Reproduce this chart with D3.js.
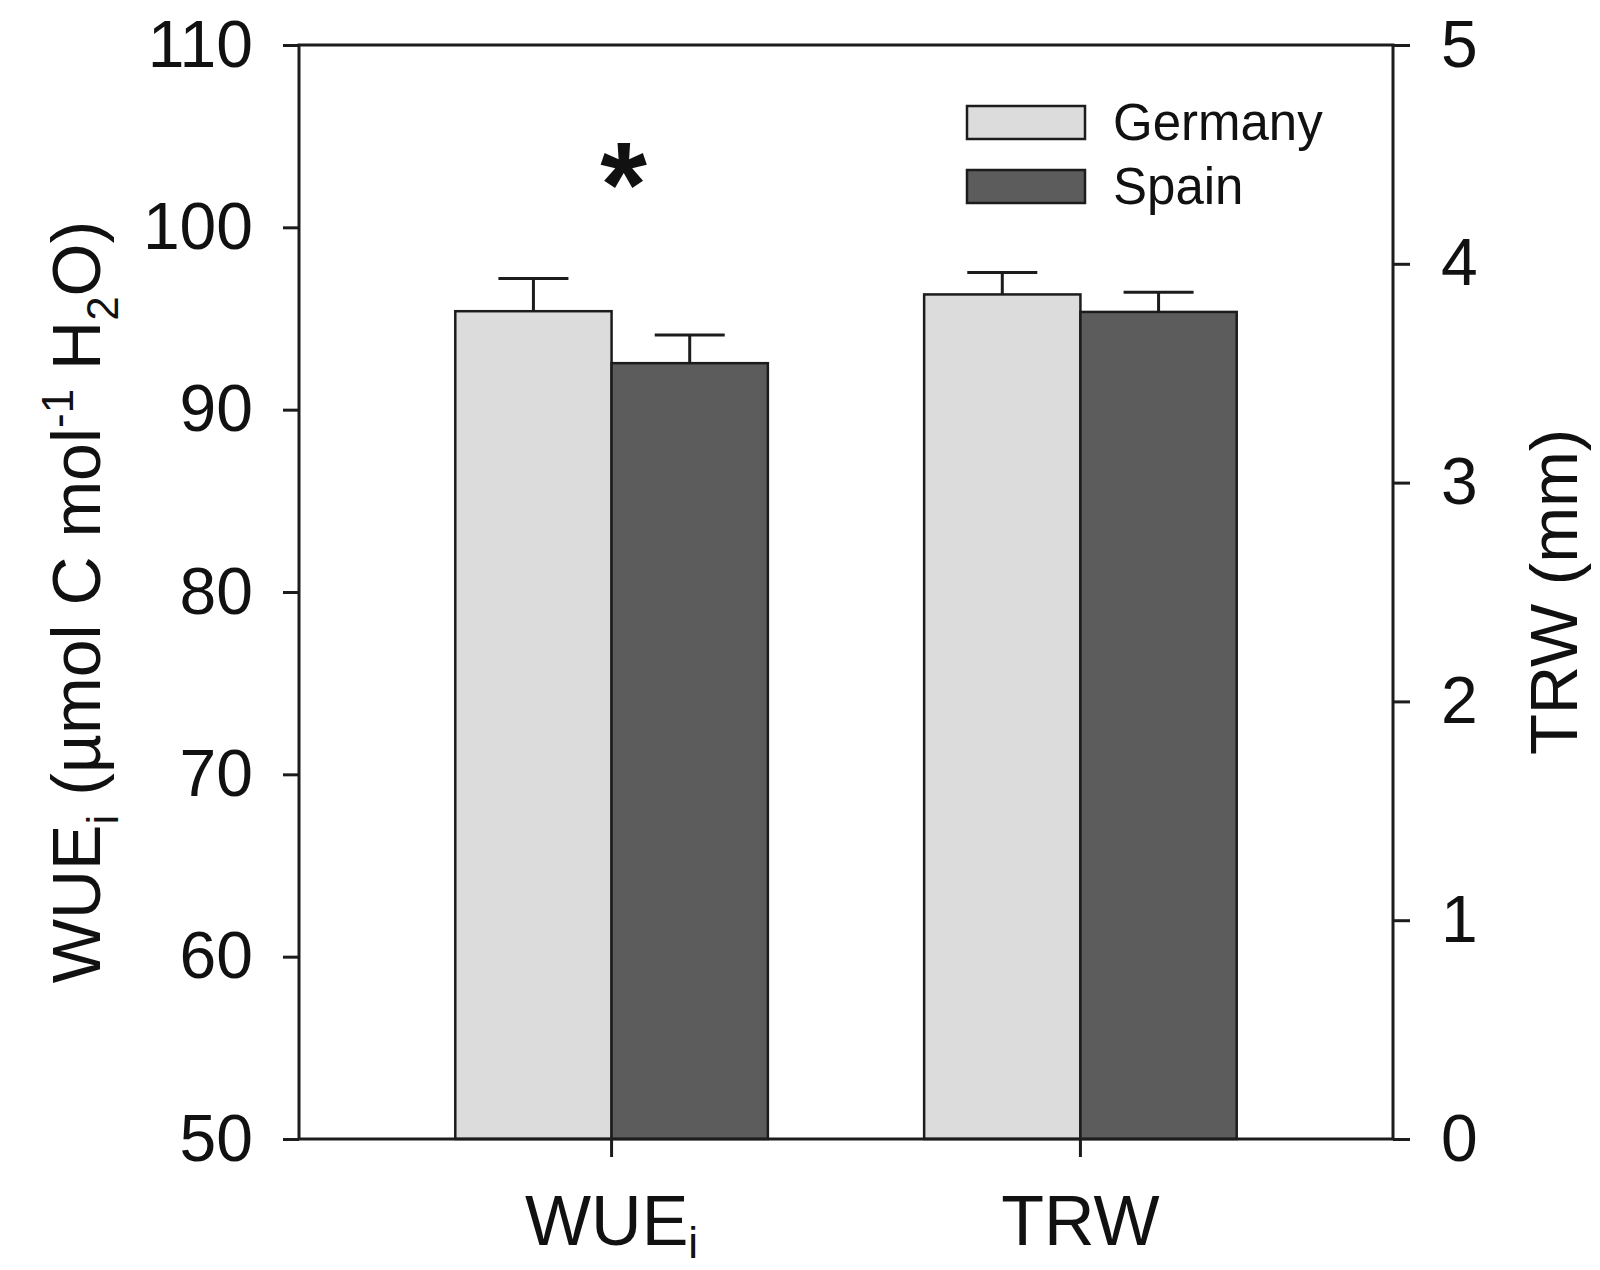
<!DOCTYPE html>
<html>
<head>
<meta charset="utf-8">
<script src="https://cdn.jsdelivr.net/npm/d3@7"></script>
<style>
  html, body { margin: 0; padding: 0; background: #fff; }
  svg { display: block; font-family: "Liberation Sans", Arial, sans-serif; }
</style>
</head>
<body>
<div id="chart"></div>
<script>
// categories on the x axis; WUEi is read on the left axis, TRW on the right one
const categories = ["WUEi", "TRW"];
const categoryAxis = ["left", "right"];
const series = ["Germany", "Spain"];

// means and standard errors, one entry per category
const germanyMeans = [95.4, 3.86];
const germanyErrors = [1.8, 0.10];
const spainMeans = [92.55, 3.78];
const spainErrors = [1.55, 0.09];

const leftTicks = [50, 60, 70, 80, 90, 100, 110];
const rightTicks = [0, 1, 2, 3, 4, 5];

// significance marker above a category (left axis units)
const significance = [{category: "WUEi", value: 103.5}];

const width = 1600;
const height = 1270;
const margin = {top: 45, right: 207, bottom: 131, left: 299};
const ink = "#1c1c1c";
const fills = {Germany: "#dcdcdc", Spain: "#5c5c5c"};

const svg = d3.select("#chart")
  .append("svg")
  .attr("width", width)
  .attr("height", height);

const x = d3.scaleBand()
  .domain(categories)
  .range([margin.left, width - margin.right])
  .paddingInner(1 / 3)
  .paddingOuter(1 / 3);

const xSeries = d3.scaleBand()
  .domain(series)
  .range([0, x.bandwidth()]);

const yLeft = d3.scaleLinear()
  .domain([50, 110])
  .range([height - margin.bottom, margin.top]);

const yRight = d3.scaleLinear()
  .domain([0, 5])
  .range([height - margin.bottom, margin.top]);

const scaleFor = (i) => categoryAxis[i] === "left" ? yLeft : yRight;

const rows = [];
categories.forEach((c, i) => {
  rows.push({category: c, series: "Germany", mean: germanyMeans[i], err: germanyErrors[i], y: scaleFor(i)});
  rows.push({category: c, series: "Spain", mean: spainMeans[i], err: spainErrors[i], y: scaleFor(i)});
});

/**
 * Bars with their upper error bars.
 */
const bars = svg.append("g");

bars.selectAll("rect")
  .data(rows)
  .enter()
  .append("rect")
  .attr("x", (d) => x(d.category) + xSeries(d.series))
  .attr("y", (d) => d.y(d.mean))
  .attr("width", xSeries.bandwidth())
  .attr("height", (d) => d.y.range()[0] - d.y(d.mean))
  .attr("fill", (d) => fills[d.series])
  .attr("stroke", ink)
  .attr("stroke-width", 2.5);

const capHalf = 35;
const centre = (d) => x(d.category) + xSeries(d.series) + xSeries.bandwidth() / 2;
const errors = bars.selectAll("g.err")
  .data(rows)
  .enter()
  .append("g")
  .attr("class", "err")
  .attr("stroke", ink)
  .attr("stroke-width", 3);

errors.append("line")
  .attr("x1", centre)
  .attr("x2", centre)
  .attr("y1", (d) => d.y(d.mean))
  .attr("y2", (d) => d.y(d.mean + d.err));

errors.append("line")
  .attr("x1", (d) => centre(d) - capHalf)
  .attr("x2", (d) => centre(d) + capHalf)
  .attr("y1", (d) => d.y(d.mean + d.err))
  .attr("y2", (d) => d.y(d.mean + d.err));

/**
 * Frame and axes.
 */
svg.append("rect")
  .attr("x", margin.left)
  .attr("y", margin.top)
  .attr("width", width - margin.left - margin.right)
  .attr("height", height - margin.top - margin.bottom)
  .attr("fill", "none")
  .attr("stroke", ink)
  .attr("stroke-width", 3);

function styleAxis(g, fontSize) {
  g.select(".domain").remove();
  g.selectAll(".tick line").attr("stroke", ink).attr("stroke-width", 3);
  g.selectAll(".tick text")
    .attr("fill", "#111")
    .attr("font-size", fontSize)
    .attr("font-family", "Liberation Sans, Arial, sans-serif");
}

svg.append("g")
  .attr("transform", `translate(${margin.left},0)`)
  .call(d3.axisLeft(yLeft).tickValues(leftTicks).tickSize(16).tickPadding(30))
  .call((g) => styleAxis(g, 66));

svg.append("g")
  .attr("transform", `translate(${width - margin.right},0)`)
  .call(d3.axisRight(yRight).tickValues(rightTicks).tickFormat(d3.format("d")).tickSize(17).tickPadding(31))
  .call((g) => styleAxis(g, 66));

svg.append("g")
  .attr("transform", `translate(0,${height - margin.bottom})`)
  .call(d3.axisBottom(x).tickSize(18).tickFormat(""))
  .call((g) => styleAxis(g, 66));

// category labels, with the subscript for WUEi
const catLabels = svg.append("g")
  .selectAll("text")
  .data(categories)
  .enter()
  .append("text")
  .attr("x", (d) => x(d) + x.bandwidth() / 2)
  .attr("y", 1245)
  .attr("text-anchor", "middle")
  .attr("font-size", 70)
  .attr("fill", "#111");

catLabels.each(function (d) {
  const t = d3.select(this);
  if (d === "WUEi") {
    t.append("tspan").text("WUE");
    t.append("tspan").attr("font-size", 44).attr("dy", 13).text("i");
  } else {
    t.text(d);
  }
});

// left axis title
const leftTitle = svg.append("text")
  .attr("transform", "translate(100,602) rotate(-90)")
  .attr("text-anchor", "middle")
  .attr("font-size", 68)
  .attr("fill", "#111");
leftTitle.append("tspan").text("WUE");
leftTitle.append("tspan").attr("font-size", 44).attr("dy", 18).text("i");
leftTitle.append("tspan").attr("dy", -18).text(" (\u00b5mol C mol");
leftTitle.append("tspan").attr("font-size", 44).attr("dy", -27).text("-1");
leftTitle.append("tspan").attr("dy", 27).text(" H");
leftTitle.append("tspan").attr("font-size", 44).attr("dy", 18).text("2");
leftTitle.append("tspan").attr("dy", -18).text("O)");

// right axis title
svg.append("text")
  .attr("transform", `translate(1577,${(margin.top + height - margin.bottom) / 2}) rotate(-90)`)
  .attr("text-anchor", "middle")
  .attr("font-size", 67)
  .attr("fill", "#111")
  .text("TRW (mm)");

// significance asterisk
svg.append("g")
  .selectAll("text")
  .data(significance)
  .enter()
  .append("text")
  .attr("x", (d) => x(d.category) + x.bandwidth() / 2 + 12)
  .attr("y", (d) => yLeft(d.value) + 62)
  .attr("text-anchor", "middle")
  .attr("font-size", 120)
  .attr("font-weight", "bold")
  .attr("fill", "#111")
  .text("*");

/**
 * Legend.
 */
const legend = svg.append("g")
  .attr("transform", "translate(967,106)");

const legendItems = legend.selectAll("g")
  .data(series)
  .enter()
  .append("g")
  .attr("transform", (d, i) => `translate(0,${i * 64})`);

legendItems.append("rect")
  .attr("width", 118)
  .attr("height", 33)
  .attr("fill", (d) => fills[d])
  .attr("stroke", ink)
  .attr("stroke-width", 2.5);

legendItems.append("text")
  .attr("x", 146)
  .attr("y", 34)
  .attr("font-size", 51)
  .attr("fill", "#111")
  .text((d) => d);
</script>
</body>
</html>
